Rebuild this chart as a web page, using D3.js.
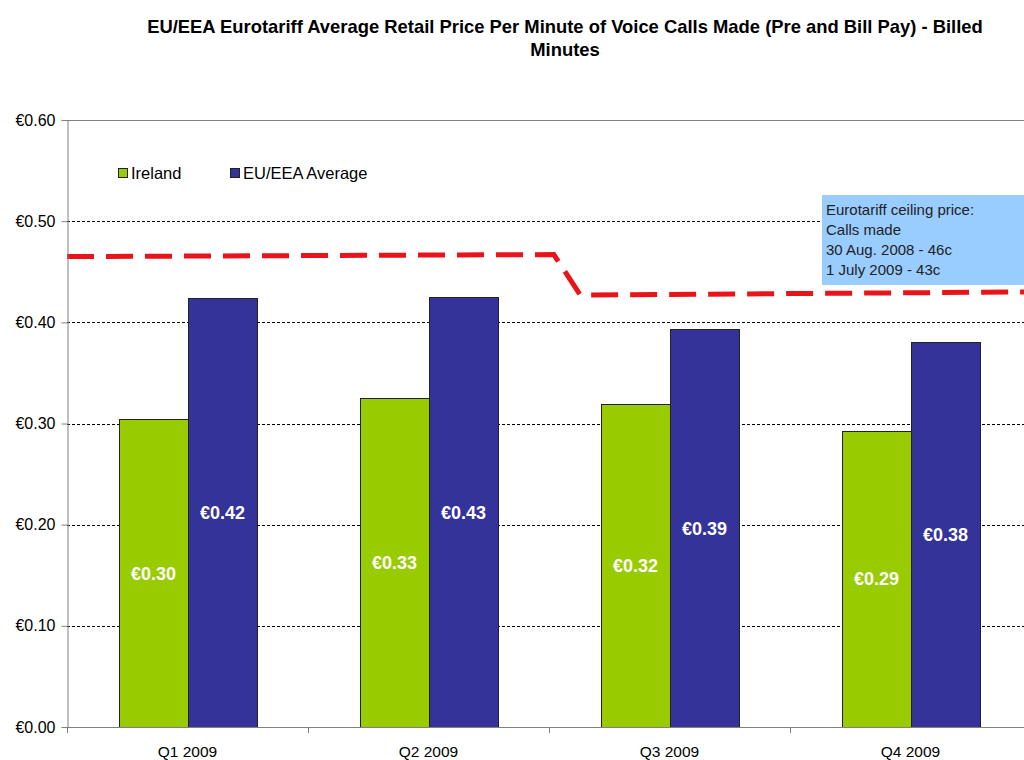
<!DOCTYPE html>
<html><head><meta charset="utf-8">
<script src="https://cdn.jsdelivr.net/npm/d3@7/dist/d3.min.js"></script>
<style>body{margin:0;background:#fff}svg{display:block}</style>
</head><body><svg id="c" width="1024" height="760"></svg>
<script>
const categories = ["Q1 2009","Q2 2009","Q3 2009","Q4 2009"];
const seriesNames = ["Ireland","EU/EEA Average"];
const ireland = [0.304, 0.325, 0.319, 0.293];
const euAverage = [0.424, 0.425, 0.393, 0.381];
const irelandLabels = ["€0.30","€0.33","€0.32","€0.29"];
const euLabels = ["€0.42","€0.43","€0.39","€0.38"];
const yTicks = [0,0.1,0.2,0.3,0.4,0.5,0.6];
const yTickLabels = ["€0.00","€0.10","€0.20","€0.30","€0.40","€0.50","€0.60"];
// ceiling line: position in category units (0..4), value
const ceilingPos = [0, 2.02, 2.13, 3.98];
const ceilingVal = [0.465, 0.467, 0.427, 0.430];
const noteLines = ["Eurotariff ceiling price:","Calls made","30 Aug. 2008 - 46c","1 July 2009 - 43c"];
const colors = ["#99CC00","#333399"];

const svg = d3.select("#c");
const L = 67, R = 1031, T = 120, B = 727;
const x = d3.scaleBand().domain(categories).range([L,R]).paddingInner(0).paddingOuter(0);
const y = d3.scaleLinear().domain([0,0.6]).range([B,T]);
const xu = d3.scaleLinear().domain([0,4]).range([L,R]);
const FONT = "'Liberation Sans',Arial,sans-serif";

// title
svg.append("text").attr("x",565).attr("y",33).attr("text-anchor","middle")
  .attr("font-family",FONT).attr("font-weight","bold")
  .attr("font-size",18.4).attr("fill","#000")
  .text("EU/EEA Eurotariff Average Retail Price Per Minute of Voice Calls Made (Pre and Bill Pay) - Billed");
svg.append("text").attr("x",565).attr("y",56).attr("text-anchor","middle")
  .attr("font-family",FONT).attr("font-weight","bold")
  .attr("font-size",18.4).attr("fill","#000").text("Minutes");

// gridlines
const g = svg.append("g");
yTicks.forEach(t=>{
  if (t===0) return;
  g.append("line").attr("x1",L).attr("x2",1024).attr("y1",Math.round(y(t))+0.5).attr("y2",Math.round(y(t))+0.5)
   .attr("stroke", t===0.6 ? "#808080" : "#000").attr("stroke-width",1)
   .attr("stroke-dasharray", t===0.6 ? null : "3,2");
});

// annotation box
const box = svg.append("g");
box.append("rect").attr("x",822).attr("y",195).attr("width",210).attr("height",90).attr("fill","#99CCFF");
noteLines.forEach((s,i)=>{
  box.append("text").attr("x",826).attr("y",214.5+i*20).attr("font-family",FONT)
    .attr("font-size",15).attr("fill","#222").text(s);
});

// bars
const bars = svg.append("g");
const groupW = 138, barW = 69, off = (x.bandwidth()-groupW)/2;
[ireland, euAverage].forEach((vals,si)=>{
  vals.forEach((v,ci)=>{
    const bx = x(categories[ci]) + off + si*barW;
    bars.append("rect").attr("x",Math.round(bx)+0.5).attr("y",Math.round(y(v))+0.5)
      .attr("width",barW).attr("height",Math.round(B-y(v)))
      .attr("fill",colors[si]).attr("stroke","#222").attr("stroke-width",1);
  });
});
// value labels
[irelandLabels, euLabels].forEach((labs,si)=>{
  const vals = si===0?ireland:euAverage;
  labs.forEach((s,ci)=>{
    const bx = x(categories[ci]) + off + si*barW + barW/2;
    svg.append("text").attr("x",bx+0.5).attr("y",(y(vals[ci])+B)/2+6.5).attr("text-anchor","middle")
      .attr("font-family",FONT).attr("font-weight","bold")
      .attr("font-size",18).attr("fill","#fff").text(s);
  });
});

// ceiling line
const line = d3.line().x((d,i)=>xu(ceilingPos[i])).y((d,i)=>y(ceilingVal[i]));
svg.append("path").datum(ceilingVal).attr("d",line).attr("fill","none")
  .attr("stroke","#E8141A").attr("stroke-width",5).attr("stroke-dasharray","27,12");

// axes
const ya = d3.axisLeft(y).tickValues(yTicks).tickFormat((d,i)=>yTickLabels[i]).tickSize(6).tickSizeOuter(0);
const yg = svg.append("g").attr("transform",`translate(${L+0.5},0)`).call(ya);
yg.attr("font-size",null).attr("font-family",null);
yg.select(".domain").attr("stroke","#808080");
yg.selectAll(".tick line").attr("stroke","#808080");
yg.selectAll(".tick text").attr("font-family",FONT).attr("font-size",16).attr("fill","#000").attr("x",-12);

const xa = svg.append("g");
xa.append("line").attr("x1",L).attr("x2",1024).attr("y1",B+0.5).attr("y2",B+0.5).attr("stroke","#808080");
d3.range(0,5).forEach(k=>{
  const xx = Math.round(xu(k))+0.5;
  xa.append("line").attr("x1",xx).attr("x2",xx).attr("y1",B).attr("y2",B+6).attr("stroke","#808080");
});
categories.forEach(c=>{
  xa.append("text").attr("x",x(c)+x.bandwidth()/2).attr("y",757).attr("text-anchor","middle")
    .attr("font-family",FONT).attr("font-size",15.5).attr("fill","#000").text(c);
});

// legend
const lg = svg.append("g");
const legX = [118, 230];
seriesNames.forEach((s,i)=>{
  lg.append("rect").attr("x",legX[i]+0.5).attr("y",168.5).attr("width",9).attr("height",9)
    .attr("fill",colors[i]).attr("stroke","#222");
  lg.append("text").attr("x",legX[i]+13).attr("y",179).attr("font-family",FONT)
    .attr("font-size",16.5).attr("fill","#000").text(s);
});
</script></body></html>
